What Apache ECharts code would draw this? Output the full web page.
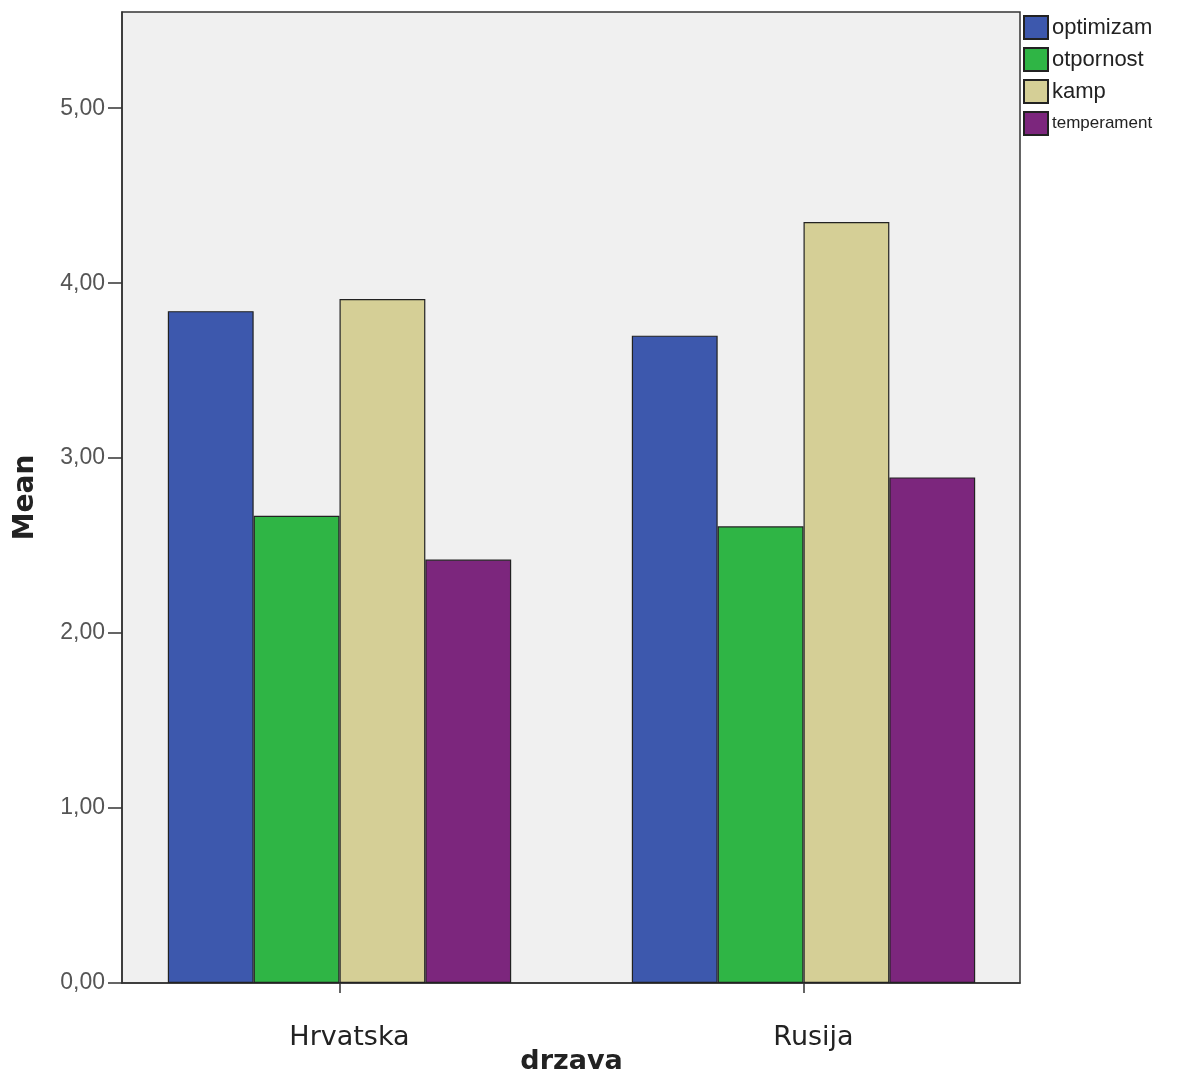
<!DOCTYPE html>
<html>
<head>
<meta charset="utf-8">
<script src="https://cdn.jsdelivr.net/npm/echarts@6/dist/echarts.min.js"></script>
<style>html,body{margin:0;padding:0;background:#fff}#c{width:1190px;height:1081px}</style>
</head>
<body>
<div id="c"></div>
<script>
const categories = ['Hrvatska', 'Rusija'];
const seriesNames = ['optimizam', 'otpornost', 'kamp', 'temperament'];
const optimizam = [3.84, 3.70];
const otpornost = [2.67, 2.61];
const kamp = [3.91, 4.35];
const temperament = [2.42, 2.89];
const yTicks = [0, 1, 2, 3, 4, 5];
const colors = ['#3d58ad', '#2fb545', '#d5cf96', '#7c267d'];

const values = [optimizam, otpornost, kamp, temperament];
const yMax = 5.55;
const fmt = v => v.toFixed(2).replace('.', ',');
const chart = echarts.init(document.getElementById('c'));
chart.setOption({
  animation: false,
  backgroundColor: '#ffffff',
  grid: [
    {left: 107.5, right: 154.5, top: 12, bottom: 98, outerBoundsMode: 'none', containLabel: false},
    {left: 122, right: 170, top: 12, bottom: 98, outerBoundsMode: 'none', containLabel: false,
     show: true, backgroundColor: '#f0f0f0', borderColor: '#333', borderWidth: 1.5, z: 0}
  ],
  legend: {
    orient: 'vertical', left: 1023, top: 15, itemWidth: 24, itemHeight: 23, itemGap: 7,
    icon: 'rect', padding: 0,
    formatter: n => n === 'temperament' ? '{s|' + n + '}' : n,
    textStyle: {fontFamily: 'Liberation Sans', fontSize: 22, color: '#222', padding: [0, 0, 0, -1],
      rich: {s: {fontFamily: 'Liberation Sans', fontSize: 17, color: '#222'}}},
    data: seriesNames
  },
  xAxis: [
    {
      type: 'category', data: categories, gridIndex: 0,
      name: 'drzava', nameLocation: 'middle', nameGap: 65, nameMoveOverlap: false,
      nameTextStyle: {fontFamily: 'DejaVu Sans', fontWeight: 'bold', fontSize: 27, color: '#222'},
      axisLine: {show: false},
      axisTick: {show: true, alignWithLabel: true, length: 10, lineStyle: {color: '#333', width: 1.5}},
      axisLabel: {fontFamily: 'DejaVu Sans', fontSize: 27, color: '#222', margin: 41, padding: [0, 0, 0, 20]}
    },
    {
      type: 'category', data: categories, gridIndex: 1,
      axisLine: {show: true, lineStyle: {color: '#333', width: 1.5}},
      axisTick: {show: false}, axisLabel: {show: false}
    }
  ],
  yAxis: [
    {
      type: 'value', min: 0, max: yMax, interval: 1, gridIndex: 0,
      axisLine: {show: false}, axisTick: {show: false}, axisLabel: {show: false}, splitLine: {show: false}
    },
    {
      type: 'value', min: 0, max: yMax, interval: 1, gridIndex: 1,
      name: 'Mean', nameLocation: 'middle', nameGap: 82, nameRotate: 90,
      nameTextStyle: {fontFamily: 'DejaVu Sans', fontWeight: 'bold', fontSize: 28, color: '#222'},
      axisLine: {show: true, lineStyle: {color: '#333', width: 1.5}},
      axisTick: {show: true, length: 14, lineStyle: {color: '#333', width: 1.5}},
      splitLine: {show: false},
      axisLabel: {fontFamily: 'Liberation Sans', fontSize: 23, color: '#555', margin: 17, showMaxLabel: false,
        formatter: v => yTicks.includes(v) ? fmt(v) : ''}
    }
  ],
  series: seriesNames.map((n, i) => ({
    name: n, type: 'bar', data: values[i], xAxisIndex: 0, yAxisIndex: 0, z: 3,
    barGap: '0%', barCategoryGap: '26%',
    itemStyle: {color: colors[i], borderColor: '#222', borderWidth: 1.2}
  }))
});
</script>
</body>
</html>
